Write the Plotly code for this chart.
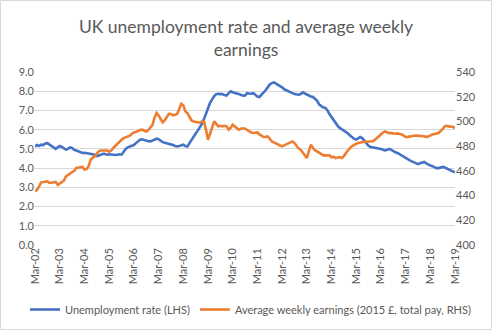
import pandas as pd
import plotly.graph_objects as go

start_month = "2002-03-01"

unemployment = [
    5.13, 5.2, 5.15, 5.22, 5.2, 5.28, 5.3, 5.22, 5.15, 5.1, 5.0, 5.08,
    5.15, 5.1, 5.05, 4.96, 5.0, 5.08, 5.05, 4.95, 4.92, 4.88, 4.82, 4.79,
    4.8, 4.78, 4.76, 4.76, 4.72, 4.68, 4.63, 4.66, 4.7, 4.74, 4.73, 4.7,
    4.72, 4.7, 4.7, 4.68, 4.7, 4.72, 4.7, 4.85, 5.0, 5.08, 5.12, 5.17,
    5.2, 5.3, 5.4, 5.48, 5.5, 5.46, 5.42, 5.4, 5.39, 5.45, 5.5, 5.53,
    5.5, 5.42, 5.35, 5.32, 5.3, 5.27, 5.25, 5.2, 5.15, 5.13, 5.15, 5.18,
    5.22, 5.15, 5.12, 5.3, 5.48, 5.65, 5.8, 5.95, 6.1, 6.3, 6.55, 6.8,
    7.1, 7.4, 7.6, 7.75, 7.85, 7.87, 7.85, 7.85, 7.8, 7.77, 7.9, 8.0,
    7.95, 7.9, 7.88, 7.85, 7.8, 7.77, 7.78, 7.9, 7.88, 7.87, 7.9, 7.8,
    7.72, 7.7, 7.8, 7.95, 8.05, 8.2, 8.35, 8.42, 8.46, 8.4, 8.34, 8.3,
    8.2, 8.1, 8.04, 8.0, 7.95, 7.9, 7.85, 7.82, 7.82, 7.85, 7.94, 7.88,
    7.82, 7.78, 7.73, 7.7, 7.62, 7.5, 7.3, 7.21, 7.15, 7.13, 7.0, 6.8,
    6.65, 6.5, 6.35, 6.2, 6.09, 6.02, 5.97, 5.91, 5.8, 5.7, 5.6, 5.52,
    5.48, 5.55, 5.62, 5.55, 5.4, 5.28, 5.15, 5.1, 5.08, 5.08, 5.06, 5.05,
    5.0, 4.95, 4.92, 4.95, 5.0, 4.95, 4.88, 4.82, 4.79, 4.72, 4.65, 4.58,
    4.5, 4.45, 4.4, 4.35, 4.3, 4.25, 4.21, 4.25, 4.3, 4.32, 4.25, 4.18,
    4.13, 4.1, 4.05, 4.0, 4.0, 4.05, 4.06, 4.03, 3.98, 3.92, 3.9, 3.85,
    3.78,
]

earnings = [
    443.4, 444.7, 447.5, 450.7, 451, 451, 451.5, 450.2, 450.5, 451, 451, 448.6,
    449.5, 450.7, 452, 455.5, 456.5, 457.5, 458.3, 460, 462.3, 462.5, 463, 463.1,
    461, 461.5, 463.6, 469, 470.5, 471.7, 474, 476, 476.5, 476.5, 477, 476.5,
    475.5, 476.5, 478.5, 480.4, 482, 483.5, 485.2, 486.5, 487, 487.9, 488.5, 490,
    491.1, 491.5, 492.5, 493, 493.3, 492.5, 491.9, 493, 494.7, 497, 503, 506.8,
    505, 502, 499.2, 501, 503.5, 506.2, 506, 505, 505.4, 506, 510, 514.3,
    513, 508, 506.8, 503.5, 500.8, 500, 499.5, 499.2, 499, 500, 500, 493,
    485.2, 490, 496, 500, 498, 496, 496.5, 496, 496.5, 496, 493.3, 495,
    497.4, 496, 494, 493.3, 494, 494.5, 494.1, 493, 492, 491, 490.6, 491,
    491.1, 489.5, 488.5, 487.4, 487.5, 487.9, 486, 483.8, 483, 482, 481, 480.5,
    479.8, 480.5, 481.5, 482.5, 483, 483.8, 482.5, 480.5, 478, 477.1, 475, 472.5,
    470.4, 476, 481.2, 478.5, 476.5, 475.7, 474.5, 473.5, 472.5, 472.5, 472.8, 472.5,
    471, 471.5, 470.4, 471, 471.2, 470.5, 472, 474.5, 477.1, 478.5, 480, 481.2,
    482, 482.5, 483, 483.2, 483.5, 483.5, 483.6, 483.8, 484, 485, 486.6, 487.5,
    489, 491, 491.9, 491, 490.5, 490.5, 490.1, 490, 490.3, 490.1, 489.5, 488.5,
    487.4, 487.5, 488, 488.2, 488.4, 488.5, 488.3, 488.4, 488.5, 488, 487.4, 487.8,
    488.5, 489.5, 490.1, 490.3, 490.6, 492, 494, 496, 496.5, 496, 496, 495.5,
    494.7,
]

tick_labels = ["Mar-02", "Mar-03", "Mar-04", "Mar-05", "Mar-06", "Mar-07",
               "Mar-08", "Mar-09", "Mar-10", "Mar-11", "Mar-12", "Mar-13",
               "Mar-14", "Mar-15", "Mar-16", "Mar-17", "Mar-18", "Mar-19"]

series_names = ["Unemployment rate (LHS)",
                "Average weekly earnings (2015 £, total pay, RHS)"]

dates = pd.date_range(start_month, periods=len(unemployment), freq="MS")
tick_dates = [pd.Timestamp(f"20{lab[-2:]}-03-01") for lab in tick_labels]

W, H = 492, 330
ML, MR, MT, MB = 35, 37, 72, 85
PW, PH = W - ML - MR, H - MT - MB

FONT = "Lato, 'Open Sans', sans-serif"
GREY = "#595959"

fig = go.Figure()
fig.add_trace(go.Scatter(x=dates, y=unemployment, name=series_names[0],
                         mode="lines", line=dict(color="#4472C4", width=2.6)))
fig.add_trace(go.Scatter(x=dates, y=earnings, name=series_names[1],
                         mode="lines", line=dict(color="#ED7D31", width=2.6),
                         yaxis="y2"))

fig.update_layout(
    width=W, height=H,
    margin=dict(l=ML, r=MR, t=MT, b=MB, autoexpand=False),
    paper_bgcolor="white", plot_bgcolor="white",
    font=dict(family=FONT, size=11, color=GREY),
    title=dict(text="UK unemployment rate and average weekly<br>earnings",
               x=0.5, xanchor="center", xref="container",
               y=1 - 33 / H, yanchor="middle", yref="container",
               font=dict(family=FONT, size=17.5, color=GREY)),
    xaxis=dict(range=[tick_dates[0], tick_dates[-1]], tickvals=tick_dates,
               ticktext=tick_labels, tickangle=-90, showgrid=False,
               zeroline=False, showline=False, ticks="",
               tickfont=dict(size=11, color=GREY)),
    yaxis=dict(range=[0, 9], dtick=1, tickformat=".1f", gridcolor="#D9D9D9",
               gridwidth=1, zeroline=False, showline=False, ticks="",
               tickfont=dict(size=11, color=GREY)),
    yaxis2=dict(range=[400, 540], dtick=20, overlaying="y", side="right",
                showgrid=False, zeroline=False, showline=False, ticks="",
                tickfont=dict(size=11, color=GREY)),
    legend=dict(orientation="h", x=(25 - ML) / PW, xanchor="left",
                xref="paper", y=-(295 - (H - MB)) / PH, yanchor="top",
                yref="paper", font=dict(size=11, color=GREY),
                itemwidth=30, tracegroupgap=0),
    showlegend=True,
)

# light grey border around the whole chart
fig.add_shape(type="rect", xref="paper", yref="paper",
              x0=(0.5 - ML) / PW, x1=(W - 0.5 - ML) / PW,
              y0=-(MB - 0.5) / PH, y1=1 + (MT - 0.5) / PH,
              line=dict(color="#D9D9D9", width=1), layer="below")

fig.write_html("out.html")
